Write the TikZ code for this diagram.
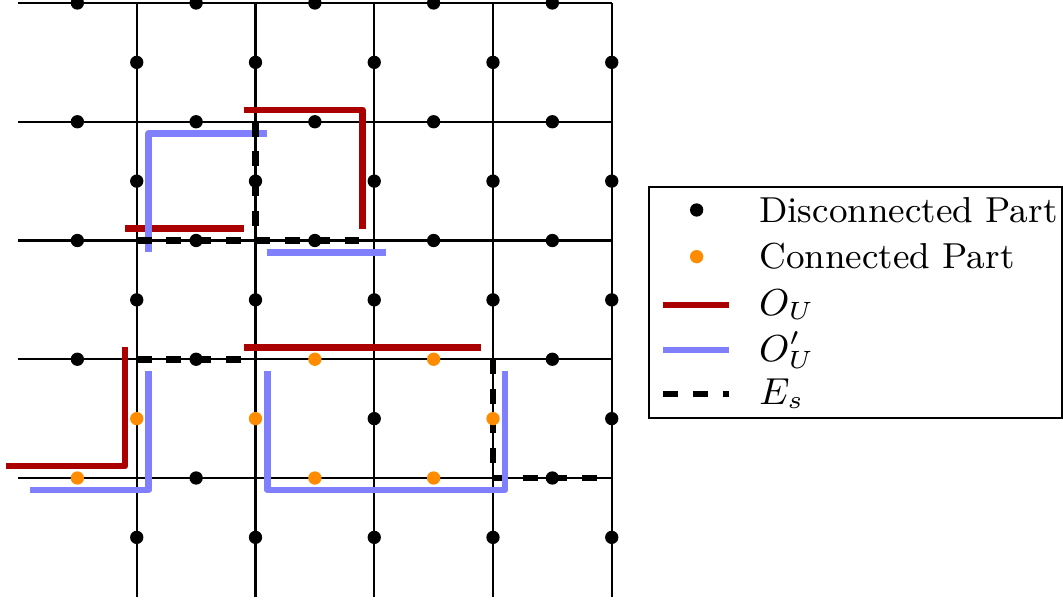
\documentclass[tikz,border=0pt]{standalone}
\definecolor{ored}{HTML}{AA0000}
\definecolor{oblue}{HTML}{8080FF}
\definecolor{dorange}{HTML}{FF8C00}
\begin{document}
\begin{tikzpicture}[x=1cm,y=-1cm,
  gridline/.style={line width=0.5pt, draw=black},
  ou/.style={line width=1.6pt, draw=ored, line join=round},
  oup/.style={line width=1.6pt, draw=oblue, line join=round},
  es/.style={line width=1.6pt, draw=black, dash pattern=on 0.125cm off 0.125cm},
  bdot/.style={circle, fill=black, inner sep=0pt, minimum size=0.112cm},
  odot/.style={circle, fill=dorange, inner sep=0pt, minimum size=0.112cm},
  legtext/.style={anchor=west, inner sep=0pt, font=\fontsize{8.65}{10}\selectfont},
  legbox/.style={line width=0.65pt, draw=black}
]
\useasboundingbox (-0.1516,-0.0253) rectangle (8.80,5.0695);
% grid
\foreach \j in {0,...,4} \draw[gridline] (0,\j) -- (5,\j);
\foreach \i in {1,...,5} \draw[gridline] (\i,0) -- (\i,5);
% O_U
\draw[ou] (1.9,0.9) -- (2.9,0.9) -- (2.9,1.9);
\draw[ou] (0.9,1.9) -- (1.9,1.9);
\draw[ou] (1.9,2.9) -- (3.9,2.9);
\draw[ou] (0.9,2.9) -- (0.9,3.9) -- (-0.1,3.9);
% E_s part under blue
\draw[es] (4,4) -- (5,4);
% O'_U
\draw[oup] (1.1,2.1) -- (1.1,1.1) -- (2.1,1.1);
\draw[oup] (2.1,2.1) -- (3.1,2.1);
\draw[oup] (1.1,3.1) -- (1.1,4.1) -- (0.1,4.1);
\draw[oup] (2.1,3.1) -- (2.1,4.1) -- (4.1,4.1) -- (4.1,3.1);
% E_s
\draw[es] (2,1) -- (2,2);
\draw[es] (1,2) -- (3,2);
\draw[es] (1,3) -- (2,3);
\draw[es] (4,3) -- (4,4);
% dots on horizontal edges
\foreach \j in {0,1,2} \foreach \x in {0.5,1.5,2.5,3.5,4.5} \node[bdot] (h-\x-\j) at (\x,\j) {};
\foreach \x in {0.5,1.5,4.5} \node[bdot] (h-\x-3) at (\x,3) {};
\foreach \x in {2.5,3.5} \node[odot] (h-\x-3) at (\x,3) {};
\foreach \x in {1.5,4.5} \node[bdot] (h-\x-4) at (\x,4) {};
\foreach \x in {0.5,2.5,3.5} \node[odot] (h-\x-4) at (\x,4) {};
% dots on vertical edges
\foreach \y in {0.5,1.5,2.5,4.5} \foreach \x in {1,...,5} \node[bdot] (v-\x-\y) at (\x,\y) {};
\foreach \x in {3,5} \node[bdot] (v-\x-3.5) at (\x,3.5) {};
\foreach \x in {1,2,4} \node[odot] (v-\x-3.5) at (\x,3.5) {};
% legend
\draw[legbox] (5.314,1.549) rectangle (8.796,3.495);
\node[bdot] (lg-a) at (5.715,1.743) {};
\node[odot] (lg-b) at (5.715,2.136) {};
\draw[ou] (5.434,2.543) -- (5.987,2.543);
\draw[oup] (5.434,2.922) -- (5.987,2.922);
\draw[es] (5.434,3.293) -- (5.987,3.293);
\node[legtext] (t-a) at (6.235,1.743) {Disconnected Part};
\node[legtext] (t-b) at (6.235,2.136) {Connected Part};
\node[legtext] (t-c) at (6.235,2.543) {$O_U$};
\node[legtext] (t-d) at (6.235,2.922) {$O_U'$};
\node[legtext] (t-e) at (6.235,3.293) {$E_s$};
\end{tikzpicture}
\end{document}
